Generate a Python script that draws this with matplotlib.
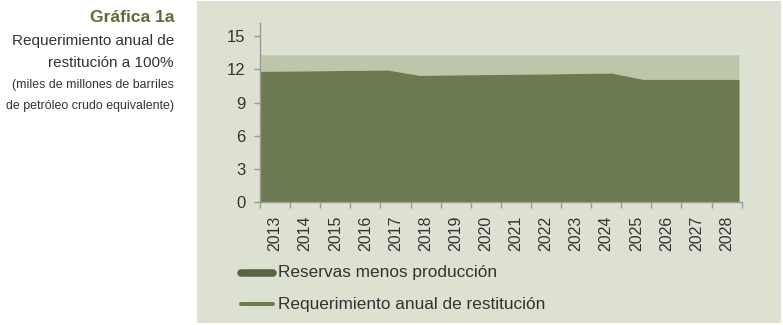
import numpy as np
import matplotlib
matplotlib.use("Agg")
import matplotlib.pyplot as plt
from matplotlib.lines import Line2D
from matplotlib.patches import Rectangle

years = ["2013", "2014", "2015", "2016", "2017", "2018", "2019", "2020",
         "2021", "2022", "2023", "2024", "2025", "2026", "2027", "2028"]
reservas_menos_produccion = [11.81, 11.84, 11.87, 11.90, 11.93, 11.45, 11.49, 11.52,
                             11.55, 11.58, 11.62, 11.66, 11.09, 11.09, 11.09, 11.09]
requerimiento_restitucion = [1.50, 1.47, 1.44, 1.41, 1.38, 1.86, 1.82, 1.79,
                             1.76, 1.73, 1.69, 1.65, 2.22, 2.22, 2.22, 2.22]
y_ticks = [0, 3, 6, 9, 12, 15]
legend_labels = ["Reservas menos producción", "Requerimiento anual de restitución"]

plt.rcParams['font.family'] = ['Liberation Sans', 'DejaVu Sans']

W, H = 783, 325
fig = plt.figure(figsize=(W / 100, H / 100), dpi=100)
fig.patch.set_facecolor("white")

bg = "#DDE1D2"
dark = "#6B7B4F"
light = "#BDC6A9"
txt = "#333333"
axc = "#9A9A92"

# panel background
fig.add_artist(Rectangle((197 / W, 1 - 323 / H), (781 - 197) / W, (323 - 1) / H,
                         transform=fig.transFigure, facecolor=bg, edgecolor="none", zorder=0))

x0, x1 = 260, 741.7
y0, y1 = 202.3, 23
ax = fig.add_axes([x0 / W, 1 - y0 / H, (x1 - x0) / W, (y0 - y1) / H])
ax.set_facecolor("none")

n = len(years)
xs = np.arange(n)
r = np.array(reservas_menos_produccion)
q = np.array(requerimiento_restitucion)
ax.fill_between(xs, 0, r, color=dark, linewidth=0, zorder=2)
ax.fill_between(xs, r, r + q, color=light, linewidth=0, zorder=1)

xmax = (n - 1) * (x1 - x0) / (739 - x0)
ax.set_xlim(0, xmax)
ax.set_ylim(0, (y0 - y1) / ((y0 - 36) / 15))

edges = np.linspace(0, xmax, n + 1)
centers = (edges[:-1] + edges[1:]) / 2
ax.set_xticks(edges, minor=True)
ax.set_xticks(centers)
ax.set_xticklabels(years, rotation=90, fontsize=11.5, color=txt)
ax.tick_params(axis="x", which="major", length=0, pad=9.5)
ax.tick_params(axis="x", which="minor", length=4.5, color=axc, width=1)
ax.set_yticks(y_ticks)
ax.set_yticklabels([str(v) for v in y_ticks], fontsize=12, color=txt)
ax.tick_params(axis="y", length=4.5, color=axc, width=1, pad=6)

for s in ["top", "right"]:
    ax.spines[s].set_visible(False)
for s in ["left", "bottom"]:
    ax.spines[s].set_color(axc)
    ax.spines[s].set_linewidth(1)
    ax.spines[s].set_zorder(3)

# legend
leg = [(273, "#566440", 7.5, legend_labels[0]), (304, dark, 4, legend_labels[1])]
for yy, c, lw, lab in leg:
    fig.add_artist(Line2D([241 / W, 273 / W], [1 - yy / H, 1 - yy / H], transform=fig.transFigure,
                          color=c, linewidth=lw * 0.72, solid_capstyle="round"))
    fig.text(278 / W, 1 - yy / H, lab, fontsize=12.45, color=txt, ha="left", va="center")

# left titles
fig.text(174 / W, 1 - 17 / H, "Gráfica 1a", fontsize=12.6, fontweight="bold",
         color="#5B6E3C", ha="right", va="center")
fig.text(174 / W, 1 - 41 / H, "Requerimiento anual de", fontsize=11, color=txt, ha="right", va="center")
fig.text(174 / W, 1 - 63 / H, "restitución a 100%", fontsize=11, color=txt, ha="right", va="center")
fig.text(174 / W, 1 - 85 / H, "(miles de millones de barriles", fontsize=8.9, color=txt, ha="right", va="center")
fig.text(174 / W, 1 - 106 / H, "de petróleo crudo equivalente)", fontsize=8.9, color=txt, ha="right", va="center")

fig.savefig("out.png", dpi=100, facecolor=fig.get_facecolor())
